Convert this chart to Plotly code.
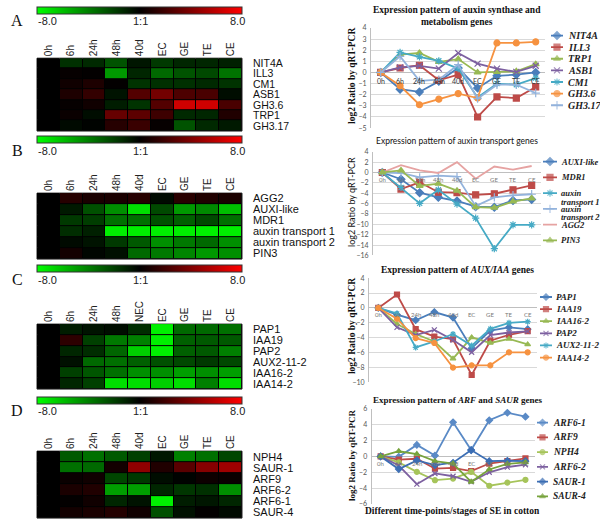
import plotly.graph_objects as go

W, H = 600, 527

# ---------------- heatmap data ----------------
hm_cols_A = ["0h", "6h", "24h", "48h", "40d", "EC", "GE", "TE", "CE"]
hm_rows_A = ["NIT4A", "ILL3", "CM1", "ASB1", "GH3.6", "TRP1", "GH3.17"]
hm_vals_A = [
    [0, -1.5, -1.3, -2.6, -0.7, -1.8, -1.2, -1.2, -1.0],
    [0, 0.2, 0.1, -4.8, -1.2, -3.3, -2.6, -2.3, -3.6],
    [0, 0.5, 0.9, 0.1, -1.6, -1.5, -1.5, -1.3, -1.6],
    [0, 0.9, 1.6, -0.6, 2.6, 3.6, 2.4, 2.3, -0.4],
    [0, 0.2, 0.5, -0.9, -1.6, 2.6, 6.5, 6.5, 2.3],
    [0, 0.3, -0.4, 3.2, 2.9, 1.9, -1.3, -1.2, 1.0],
    [0, -0.3, -0.1, 1.2, 1.8, 0.2, -2.6, -1.3, -0.8],
]

hm_cols_B = ["0h", "6h", "24h", "48h", "40d", "EC", "GE", "TE", "CE"]
hm_rows_B = ["AGG2", "AUXI-like", "MDR1", "auxin transport 1", "auxin transport 2", "PIN3"]
hm_vals_B = [
    [0, 1.2, 0.8, 0.8, 1.2, -0.3, 1.3, 1.0, 0.8],
    [0, -0.8, -2.5, -4.5, -7.0, -2.3, -4.8, -4.3, -6.0],
    [0, -1.8, -1.9, -3.5, -3.5, -2.5, -3.0, -2.3, -3.5],
    [0, -1.4, -1.0, -7.5, -7.5, -7.5, -7.5, -7.5, -7.5],
    [0, -0.3, -0.6, -1.8, -2.8, -4.5, -3.8, -3.3, -4.5],
    [0, 0.6, -0.2, -0.5, -3.3, -3.8, -4.2, -4.8, -4.5],
]

hm_cols_C = ["0h", "6h", "24h", "48h", "NEC", "EC", "GE", "TE", "CE"]
hm_rows_C = ["PAP1", "IAA19", "PAP2", "AUX2-11-2", "IAA16-2", "IAA14-2"]
hm_vals_C = [
    [0, -0.9, -0.6, -0.4, -1.4, -7.5, -3.3, -3.3, -3.5],
    [0, 1.4, -2.0, -3.8, -4.0, -7.5, -3.0, -2.8, -2.8],
    [0, -1.2, -1.4, -3.2, -6.5, -7.5, -3.0, -2.8, -4.0],
    [0, -0.5, -3.3, -3.5, -3.0, -2.5, -2.3, -1.8, -2.3],
    [0, -2.0, -2.7, -3.5, -4.5, -4.5, -5.0, -4.5, -5.0],
    [0, -1.2, -2.0, -7.0, -7.0, -6.5, -7.0, -4.0, -7.0],
]

hm_cols_D = ["0h", "6h", "24h", "48h", "40d", "EC", "GE", "TE", "CE"]
hm_rows_D = ["NPH4", "SAUR-1", "ARF9", "ARF6-2", "ARF6-1", "SAUR-4"]
hm_vals_D = [
    [0, -2.8, -3.5, -2.8, -2.0, -0.7, -4.0, -3.5, -2.2],
    [0, -3.5, -3.3, 0.6, 4.5, 1.0, 2.8, 4.2, 5.0],
    [0, 0.3, 0.5, -2.2, -1.8, -0.4, -0.1, 0.4, 0.3],
    [0, 0.8, 1.0, -5.0, -5.0, -1.2, -1.7, -1.5, -4.5],
    [0, 0.1, 0.5, -1.2, -0.6, -7.5, -0.9, -0.7, -1.2],
    [0, 0.6, 0.8, 1.1, 0.5, -2.5, -0.5, 0.1, -0.3],
]

cb_ticktext = ["-8.0", "1:1", "8.0"]

# ---------------- line chart data ----------------
stages = ["0h", "6h", "24h", "48h", "40d", "EC", "GE", "TE", "CE"]

A_NIT4A = [0, -1.5, -1.75, -0.8, 0.4, -1.4, -0.3, -0.2, 0.0]
A_ILL3 = [0, 0.4, 0.65, -0.7, -0.2, -4.0, -2.2, -2.3, -1.3]
A_TRP1 = [0, 1.6, 1.75, 0.95, 1.2, 0.0, 0.05, 0.1, 0.75]
A_ASB1 = [0, 0.45, 0.6, 0.35, 1.75, 0.8, 0.35, 0.05, 0.6]
A_CM1 = [0, 1.8, 1.4, 1.05, 0.35, -2.25, -1.0, -1.1, -0.5]
A_GH36 = [0, -1.2, -2.9, -2.4, -1.9, -2.3, 2.65, 2.65, 2.75]
A_GH317 = [0, 1.45, -0.75, -0.65, 0.7, -2.35, -1.1, -1.1, -1.85]

B_AUXI = [0, -1.3, -3.9, -4.8, -5.5, -6.6, -6.7, -5.4, -5.2]
B_MDR1 = [0, -3.2, -1.9, -3.8, -3.9, -4.3, -4.1, -3.35, -2.5]
B_AT1 = [0, -2.9, -5.95, -3.35, -6.1, -8.8, -14.7, -10.1, -10.1]
B_AT2 = [0, -0.1, -0.95, -0.6, -0.8, -6.5, -4.8, -4.4, -4.2]
B_AGG2 = [0, 1.4, 0.4, -0.1, 2.0, -1.2, 1.15, 0.55, 1.25]
B_PIN3 = [0, 0.4, -2.6, -2.15, -3.5, -6.7, -6.8, -5.6, -5.0]

C_PAP1 = [0, -0.9, -1.65, -0.55, -1.3, -5.4, -3.05, -2.6, -2.85]
C_IAA19 = [0, 1.8, -2.85, -3.85, -4.2, -9.0, -4.4, -3.6, -3.1]
C_IAA162 = [0, -2.15, -3.5, -4.5, -6.8, -3.95, -4.7, -4.15, -4.9]
C_PAP2 = [0, -2.6, -3.65, -2.95, -4.3, -5.95, -3.65, -3.3, -3.15]
C_AUX2112 = [0, -0.75, -5.3, -4.5, -3.5, -5.05, -2.8, -2.0, -1.85]
C_IAA142 = [0, -1.45, -4.05, -4.7, -8.0, -7.7, -7.7, -5.95, -5.95]

D_ARF61 = [0, -0.05, 1.45, 0.1, 4.3, 0.8, 4.55, 5.5, 5.0]
D_ARF9 = [0, -0.4, -0.3, -1.55, -1.45, -1.85, -0.9, -0.6, -0.25]
D_NPH4 = [0, -0.75, -1.95, -3.0, -2.8, -1.95, -3.7, -3.3, -2.95]
D_ARF62 = [0, -1.15, -3.5, -2.15, -2.5, -3.2, -2.0, -1.35, -1.05]
D_SAUR1 = [0, -1.6, -0.5, -1.1, -0.8, 0.8, -0.6, -0.55, -0.6]
D_SAUR4 = [0, 0.65, 0.3, -0.6, -0.9, -3.2, -1.65, -0.95, -0.75]

BLUE = "#4A7EBB"
RED = "#BE4B48"
GREEN = "#98B954"
PURPLE = "#7D60A0"
CYAN = "#46AAC5"
ORANGE = "#F69240"
LBLUE = "#93B3DC"
PINK = "#E6A3A2"
BLUE2 = "#3C6EB4"
YGREEN = "#A6C45A"
GREEN2 = "#77A33C"

SERIF = "Liberation Serif"
SANS = "Liberation Sans"
CAL = "Lato, 'Open Sans', 'DejaVu Sans', sans-serif"


def px_x(p):
    return p / W


def px_y(p):
    return 1 - p / H


def ax(i, kind):
    return kind if i == 1 else f"{kind}{i}"


def lay(i, kind):
    return f"{kind}axis" if i == 1 else f"{kind}axis{i}"


fig = go.Figure()
layout = dict(width=W, height=H, margin=dict(l=0, r=0, t=0, b=0),
              paper_bgcolor="white", plot_bgcolor="white", showlegend=False)
annotations = []
shapes = []

colorscale = [[0, "#00ff00"], [0.5, "#000000"], [1, "#ff0000"]]

heat_panels = [
    dict(letter="A", cols=hm_cols_A, rows=hm_rows_A, vals=hm_vals_A, top=54, bottom=128, cb=2, lab=16, fs=10.5),
    dict(letter="B", cols=hm_cols_B, rows=hm_rows_B, vals=hm_vals_B, top=191, bottom=258, cb=133, lab=148, fs=11),
    dict(letter="C", cols=hm_cols_C, rows=hm_rows_C, vals=hm_vals_C, top=324, bottom=390, cb=264, lab=279, fs=11),
    dict(letter="D", cols=hm_cols_D, rows=hm_rows_D, vals=hm_vals_D, top=453, bottom=521, cb=398, lab=412, fs=11),
]
HX0, HX1 = 37, 242

for k, p in enumerate(heat_panels):
    i = k + 1
    fig.add_trace(go.Heatmap(
        z=p["vals"], x=p["cols"], y=p["rows"], xaxis=ax(i, "x"), yaxis=ax(i, "y"),
        colorscale=colorscale, zmin=-8, zmax=8, xgap=1, ygap=1, hoverinfo="skip",
        colorbar=dict(orientation="h", x=px_x((HX0 + HX1) / 2), xanchor="center",
                      y=px_y(p["cb"]), yanchor="top", len=HX1 - HX0, lenmode="pixels",
                      thickness=7, thicknessmode="pixels", outlinewidth=1, outlinecolor="#333",
                      showticklabels=False, ticks="", xpad=0, ypad=0),
    ))
    layout[lay(i, "x")] = dict(domain=[px_x(HX0), px_x(HX1)], anchor=ax(i, "y"), side="top",
                               tickmode="array", tickvals=p["cols"], ticktext=p["cols"],
                               tickangle=-90, ticks="", showgrid=False, zeroline=False,
                               tickfont=dict(family=SANS, size=10, color="#222"),
                               ticklabelstandoff=1, fixedrange=True)
    layout[lay(i, "y")] = dict(domain=[px_y(p["bottom"]), px_y(p["top"])], anchor=ax(i, "x"),
                               side="right", autorange="reversed", ticks="", showgrid=False,
                               tickmode="array", tickvals=p["rows"], ticktext=p["rows"],
                               zeroline=False, tickfont=dict(family=SANS, size=p["fs"], color="#111"),
                               ticklabelstandoff=10, fixedrange=True)
    shapes.append(dict(type="rect", xref=f"{ax(i, 'x')} domain", yref=f"{ax(i, 'y')} domain",
                       x0=0, x1=1, y0=0, y1=1, fillcolor="#000", line=dict(color="#222", width=1),
                       layer="below"))
    # colorbar labels
    for t, xp in zip(cb_ticktext, [47, 140, 237]):
        annotations.append(dict(text=t, x=px_x(xp), y=px_y(p["lab"]), xref="paper", yref="paper",
                                showarrow=False, font=dict(family=SANS, size=11, color="#222"),
                                xanchor="center", yanchor="middle"))
    annotations.append(dict(text=p["letter"], x=px_x(17), y=px_y(p["lab"]), xref="paper", yref="paper",
                            showarrow=False, font=dict(family=SERIF, size=16, color="#111"),
                            xanchor="center", yanchor="middle"))

line_panels = [
    dict(series=[("NIT4A", A_NIT4A, BLUE, "diamond"), ("ILL3", A_ILL3, RED, "square"),
                 ("TRP1", A_TRP1, GREEN, "triangle-up"), ("ASB1", A_ASB1, PURPLE, "x-thin"),
                 ("CM1", A_CM1, CYAN, "asterisk"), ("GH3.6", A_GH36, ORANGE, "circle"),
                 ("GH3.17", A_GH317, LBLUE, "cross-thin")],
         yr=(-5, 4), dtick=1, box=(371, 545.4, 23.3, 125),
         title="<b>Expression pattern of auxin synthase and<br>metabolism genes</b>",
         tfont=dict(family=SERIF, size=9.5, color="#111"), ty=11,
         ytitle="<b>log2 Ratio by qRT-PCR</b>", ytfont=dict(family=SERIF, size=9.5, color="#111"), yty=72,
         catfont=dict(family=CAL, size=7, color="#333"), catoff=8.5,
         leg=dict(x0=551, x1=563, y0=31, dy=11.8, size=10, xs=3), ms=6),
    dict(series=[("AUXI-like", B_AUXI, BLUE, "diamond"), ("MDR1", B_MDR1, RED, "square"),
                 ("auxin transport 1", B_AT1, CYAN, "asterisk"),
                 ("auxin transport 2", B_AT2, LBLUE, "cross-thin"),
                 ("AGG2", B_AGG2, PINK, None), ("PIN3", B_PIN3, GREEN, "triangle-up")],
         yr=(-16, 4), dtick=2, box=(373, 541, 149, 254.3),
         title="Expression pattern of auxin transport genes",
         tfont=dict(family=CAL, size=8.5, color="#111"), ty=138,
         ytitle="log2 Ratio by qRT-PCR", ytfont=dict(family=CAL, size=9, color="#111"), yty=200,
         catfont=dict(family=CAL, size=6, color="#777"), catoff=7.3,
         leg=dict(x0=543, x1=557, y0=159, dy=16, size=8.5, xs=2), ms=6),
    dict(series=[("PAP1", C_PAP1, BLUE, "diamond"), ("IAA19", C_IAA19, RED, "square"),
                 ("IAA16-2", C_IAA162, GREEN, "triangle-up"), ("PAP2", C_PAP2, PURPLE, "x-thin"),
                 ("AUX2-11-2", C_AUX2112, CYAN, "asterisk"), ("IAA14-2", C_IAA142, ORANGE, "circle")],
         yr=(-10, 4), dtick=2, box=(369, 537, 277.3, 383.3),
         title="<b>Expression pattern of <i>AUX/IAA</i> genes</b>",
         tfont=dict(family=SERIF, size=9.5, color="#111"), ty=269,
         ytitle="<b>log2 Ratio by qRT-PCR</b>", ytfont=dict(family=SERIF, size=9.5, color="#111"), yty=326,
         catfont=dict(family=CAL, size=6, color="#777"), catoff=6.5,
         leg=dict(x0=540, x1=552, y0=296.5, dy=12.3, size=9, xs=2), ms=5),
    dict(series=[("ARF6-1", D_ARF61, "#5A8AC6", "diamond"), ("ARF9", D_ARF9, RED, "square"),
                 ("NPH4", D_NPH4, YGREEN, "circle"), ("ARF6-2", D_ARF62, PURPLE, "x-thin"),
                 ("SAUR-1", D_SAUR1, BLUE2, "diamond"), ("SAUR-4", D_SAUR4, GREEN2, "triangle-up")],
         yr=(-6, 6), dtick=2, box=(371.6, 534.5, 410, 506.7),
         title="<b>Expression pattern of <i>ARF</i> and <i>SAUR</i> genes</b>",
         tfont=dict(family=SERIF, size=9, color="#111"), ty=401,
         ytitle="<b>log2 Ratio by qRT-PCR</b>", ytfont=dict(family=SERIF, size=9, color="#111"), yty=457,
         catfont=dict(family=CAL, size=6, color="#777"), catoff=6.7,
         leg=dict(x0=537, x1=548, y0=424, dy=15, size=9.5, xs=3), ms=5),
]

for k, p in enumerate(line_panels):
    i = k + 5
    li = k + 9
    xl, xr, yt, yb = p["box"]
    for name, vals, color, sym in p["series"]:
        mode = "lines" if sym is None else "lines+markers"
        fig.add_trace(go.Scatter(
            x=stages, y=vals, mode=mode, xaxis=ax(i, "x"), yaxis=ax(i, "y"),
            line=dict(color=color, width=1.8), hoverinfo="skip",
            marker=dict(symbol=sym or "circle", size=p["ms"], color=color,
                        line=dict(color=color, width=1.2)),
        ))
    layout[lay(i, "x")] = dict(domain=[px_x(xl), px_x(xr)], anchor=ax(i, "y"), type="category",
                               range=[-0.5, len(stages) - 0.5], showticklabels=False, ticks="",
                               showgrid=False, zeroline=False, showline=False, fixedrange=True)
    layout[lay(i, "y")] = dict(domain=[px_y(yb), px_y(yt)], anchor=ax(i, "x"), range=list(p["yr"]),
                               dtick=p["dtick"], showgrid=True, gridcolor="#D9D9D9", gridwidth=1,
                               zeroline=True, zerolinecolor="#BFBFBF", zerolinewidth=1,
                               showline=True, linecolor="#BFBFBF", linewidth=1, ticks="",
                               tickfont=dict(family=CAL, size=7, color="#555"),
                               ticklabelstandoff=2, fixedrange=True)
    # category labels along the zero line
    for s in stages:
        annotations.append(dict(text=s, x=s, y=0, xref=ax(i, "x"), yref=ax(i, "y"), yshift=-p["catoff"],
                                showarrow=False, font=p["catfont"], xanchor="center", yanchor="middle"))
    annotations.append(dict(text=p["title"], x=px_x(457), y=px_y(p["ty"]), xref="paper", yref="paper",
                            showarrow=False, font=p["tfont"], xanchor="center", yanchor="middle"))
    annotations.append(dict(text=p["ytitle"], x=px_x(352), y=px_y(p["yty"]), xref="paper", yref="paper",
                            showarrow=False, font=p["ytfont"], textangle=-90,
                            xanchor="center", yanchor="middle"))
    # legend (own small axes)
    lg = p["leg"]
    n = len(p["series"])
    layout[lay(li, "x")] = dict(domain=[px_x(lg["x0"]), px_x(lg["x1"])], anchor=ax(li, "y"),
                                range=[0, 1], visible=False, fixedrange=True)
    layout[lay(li, "y")] = dict(domain=[px_y(lg["y0"] + (n - 0.5) * lg["dy"]), px_y(lg["y0"] - 0.5 * lg["dy"])],
                                anchor=ax(li, "x"), range=[n - 0.5, -0.5], visible=False, fixedrange=True)
    for j, (name, vals, color, sym) in enumerate(p["series"]):
        fig.add_trace(go.Scatter(
            x=[0, 0.5, 1], y=[j, j, j], mode="lines" if sym is None else "lines+markers",
            xaxis=ax(li, "x"), yaxis=ax(li, "y"), line=dict(color=color, width=1.8), hoverinfo="skip",
            marker=dict(symbol=sym or "circle", size=[0, p["ms"], 0], color=color,
                        line=dict(color=color, width=1.2)),
        ))
        lf = dict(family=SERIF, size=lg["size"], color="#222")
        if " transport" in name:
            first, second = name.split(" ", 1)
            annotations.append(dict(text=f"<b><i>{first}</i></b>", x=1, y=j, xref=ax(li, "x"), yref=ax(li, "y"),
                                    xshift=lg["xs"], showarrow=False, font=lf, xanchor="left", yanchor="middle"))
            annotations.append(dict(text=f"<b><i>{second}</i></b>", x=1, y=j, xref=ax(li, "x"), yref=ax(li, "y"),
                                    xshift=lg["xs"], yshift=-8.5, showarrow=False, font=lf,
                                    xanchor="left", yanchor="middle"))
        else:
            annotations.append(dict(text=f"<b><i>{name}</i></b>", x=1, y=j, xref=ax(li, "x"), yref=ax(li, "y"),
                                    xshift=lg["xs"], showarrow=False, font=lf, xanchor="left", yanchor="middle"))

annotations.append(dict(text="<b>Different time-points/stages of SE in cotton</b>", x=px_x(452), y=px_y(514),
                        xref="paper", yref="paper", showarrow=False,
                        font=dict(family=SERIF, size=9.5, color="#111"), xanchor="center", yanchor="middle"))

layout["annotations"] = annotations
layout["shapes"] = shapes
fig.update_layout(**layout)
fig.write_html("out.html", config={"displayModeBar": False},
               post_script="document.body.style.margin='0';document.body.style.overflow='hidden';")
